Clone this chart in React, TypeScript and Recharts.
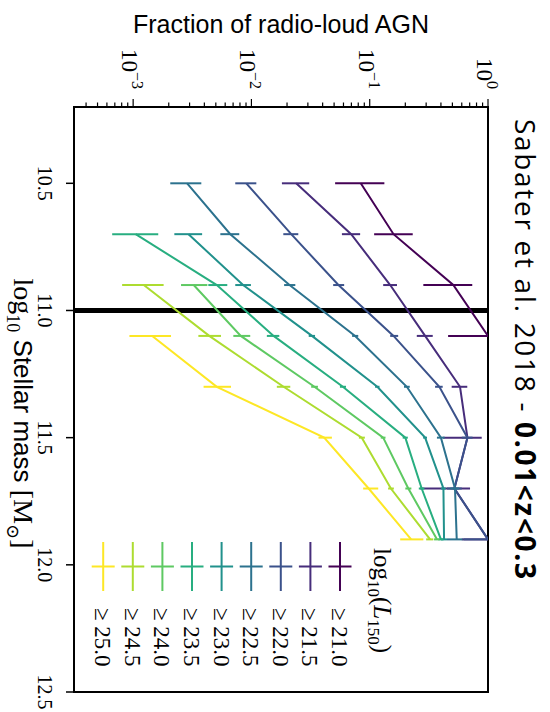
import { LineChart, Line, XAxis, YAxis, ErrorBar, ReferenceLine, ReferenceArea, Legend } from 'recharts'

// log10 stellar mass bins
const MASS = [10.5, 10.7, 10.9, 11.1, 11.3, 11.5, 11.7, 11.9]

// fraction of radio-loud AGN per mass bin, with lower / upper error bounds
const F_210 = [0.084, 0.159, 0.509, 1.0, null, null, null, null]
const LO_210 = [0.051, 0.109, 0.284, 0.46, null, null, null, null]
const HI_210 = [0.133, 0.231, 0.736, 1.0, null, null, null, null]

const F_215 = [0.0239, 0.0697, 0.149, 0.294, 0.58, 0.67, 0.52, 1.0]
const LO_215 = [0.0181, 0.0582, 0.13, 0.25, 0.493, 0.417, 0.267, 0.6]
const HI_215 = [0.0308, 0.083, 0.17, 0.341, 0.668, 0.885, 0.705, 1.0]

const F_220 = [0.00905, 0.0217, 0.0544, 0.159, 0.388, 0.67, 0.52, 1.0]
const LO_220 = [0.0073, 0.0186, 0.0491, 0.149, 0.357, 0.6, 0.45, 0.62]
const HI_220 = [0.011, 0.0249, 0.0608, 0.174, 0.414, 0.74, 0.6, 1.0]

const F_225 = [0.00286, 0.00663, 0.021, 0.0753, 0.206, 0.4, 0.526, 0.544]
const LO_225 = [0.00206, 0.00546, 0.0189, 0.071, 0.195, 0.37, 0.48, 0.45]
const HI_225 = [0.00377, 0.00789, 0.0235, 0.08, 0.218, 0.43, 0.57, 0.61]

const F_230 = [null, 0.00294, 0.0085, 0.0325, 0.116, 0.294, 0.42, 0.425]
const LO_230 = [null, 0.00223, 0.0073, 0.0305, 0.111, 0.283, 0.4, 0.4]
const HI_230 = [null, 0.00383, 0.0099, 0.0345, 0.121, 0.305, 0.44, 0.45]

const F_235 = [null, 0.00105, 0.0051, 0.0154, 0.0593, 0.2, 0.275, 0.4]
const LO_235 = [null, 0.000665, 0.00432, 0.0135, 0.056, 0.19, 0.26, 0.38]
const HI_235 = [null, 0.00163, 0.00625, 0.0172, 0.063, 0.21, 0.29, 0.42]

const F_240 = [null, null, 0.00325, 0.00813, 0.0341, 0.13, 0.212, 0.371]
const LO_240 = [null, null, 0.00254, 0.00703, 0.032, 0.124, 0.2, 0.35]
const HI_240 = [null, null, 0.00424, 0.00977, 0.0365, 0.136, 0.225, 0.39]

const F_245 = [null, null, 0.00123, 0.0044, 0.0187, 0.0857, 0.151, 0.324]
const LO_245 = [null, null, 0.000807, 0.00356, 0.0164, 0.081, 0.143, 0.3]
const HI_245 = [null, null, 0.00181, 0.00553, 0.0213, 0.091, 0.16, 0.345]

const F_250 = [null, null, null, 0.00145, 0.0051, 0.0412, 0.098, 0.224]
const LO_250 = [null, null, null, 0.00093, 0.00394, 0.0369, 0.088, 0.181]
const HI_250 = [null, null, null, 0.00209, 0.00672, 0.0479, 0.118, 0.284]

const LUM = ['21.0', '21.5', '22.0', '22.5', '23.0', '23.5', '24.0', '24.5', '25.0']
const FRACS = [F_210, F_215, F_220, F_225, F_230, F_235, F_240, F_245, F_250]
const LOWS = [LO_210, LO_215, LO_220, LO_225, LO_230, LO_235, LO_240, LO_245, LO_250]
const HIGHS = [HI_210, HI_215, HI_220, HI_225, HI_230, HI_235, HI_240, HI_245, HI_250]

// viridis, 9 steps
const COLORS = ['#440154', '#472d7b', '#3b528b', '#2c728e', '#21918c', '#28ae80', '#5ec962', '#addc30', '#fde725']

const MASS_TICKS = [10.5, 11.0, 11.5, 12.0, 12.5]
const DECADES = [0.0001, 0.001, 0.01, 0.1]
const SUBSTEPS = [1, 2, 3, 4, 5, 6, 7, 8, 9]
const FRAC_MIN = Math.pow(10, -3.5)
const FRAC_TICKS = DECADES.flatMap(d => SUBSTEPS.map(s => +(d * s).toPrecision(3)))
    .concat([1])
    .filter(v => v >= FRAC_MIN)

const rows = MASS.map((m, i) => {
    const row: Record<string, any> = { mass: m }
    FRACS.forEach((f, k) => {
        const v = f[i]
        if (v == null) return
        row['f' + k] = v
        row['e' + k] = [v - (LOWS[k][i] as number), (HIGHS[k][i] as number) - v]
    })
    return row
})

const SERIF = "'Liberation Serif', 'DejaVu Serif', serif"
const SANS = "'Liberation Sans', Arial, sans-serif"

function MassTick({ x, y, payload }: any) {
    return (
        <g>
            <line x1={x} x2={x} y1={y} y2={y + 8} stroke="#000" strokeWidth={1.5} />
            <text x={x} y={y + 36} textAnchor="middle" fontFamily={SERIF} fontSize={20} fill="#000">
                {Number(payload.value).toFixed(1)}
            </text>
        </g>
    )
}

function FracTick({ x, y, payload }: any) {
    const lg = Math.log10(payload.value)
    const e = Math.round(lg)
    const major = Math.abs(lg - e) < 1e-6
    return (
        <g>
            <line x1={x - (major ? 8 : 4.5)} x2={x} y1={y} y2={y} stroke="#000" strokeWidth={1.2} />
            {major && (
                <text x={x - 18} y={y + 11} textAnchor="end" fontFamily={SERIF} fontSize={23} fill="#000">
                    10<tspan dy={-10} fontSize={16}>{e < 0 ? '\u2212' + -e : e}</tspan>
                </text>
            )}
        </g>
    )
}

function FracLabel({ viewBox }: any) {
    const cx = 33
    const cy = viewBox.y + viewBox.height / 2
    return (
        <text x={cx} y={cy} transform={`rotate(-90 ${cx} ${cy})`} textAnchor="middle" fontFamily={SANS} fontSize={25} fill="#000">
            Fraction of radio-loud AGN
        </text>
    )
}

function MassLabel({ viewBox }: any) {
    const cx = viewBox.x + viewBox.width / 2 + 14
    const y = 536
    return (
        <text x={cx} y={y} textAnchor="middle" fontSize={26} fill="#000">
            <tspan fontFamily={SERIF} fontSize={28}>log</tspan>
            <tspan fontFamily={SERIF} fontSize={18} dy={7}>10</tspan>
            <tspan fontFamily={SANS} dy={-7}> Stellar mass </tspan>
            <tspan fontFamily={SERIF} fontSize={28}>[M</tspan>
            <tspan fontFamily={SERIF} fontSize={18} dy={7}>{'\u2299'}</tspan>
            <tspan fontFamily={SERIF} fontSize={28} dy={-7}>]</tspan>
        </text>
    )
}

function LumLegend({ payload }: any) {
    const items = payload || []
    return (
        <svg width={170} height={330}>
            <text x={8} y={26} fontFamily={SERIF} fontSize={25} fill="#000">
                log<tspan fontSize={17} dy={6}>10</tspan>
                <tspan dy={-6}>(</tspan>
                <tspan fontStyle="italic">L</tspan>
                <tspan fontSize={17} dy={6}>150</tspan>
                <tspan dy={-6}>)</tspan>
            </text>
            {items.map((p: any, i: number) => {
                const cy = 60 + i * 29.6
                return (
                    <g key={p.value}>
                        <line x1={2} x2={51} y1={cy} y2={cy} stroke={p.color} strokeWidth={2} />
                        <line x1={26.5} x2={26.5} y1={cy - 11.5} y2={cy + 11.5} stroke={p.color} strokeWidth={2} />
                        <text x={68} y={cy + 8} fontFamily={SERIF} fontSize={23} fill="#000">
                            {'\u2265 ' + p.value}
                        </text>
                    </g>
                )
            })}
        </svg>
    )
}

export default function App() {
    return (
        <div style={{ position: 'absolute', left: 0, top: 0, width: 550, height: 712, overflow: 'hidden', background: '#fff' }}>
            <div style={{ position: 'absolute', left: 0, top: 0, width: 712, height: 550, transformOrigin: '0 0', transform: 'translate(550px, 0) rotate(90deg)' }}>
                <LineChart width={712} height={550} data={rows} margin={{ top: 62, right: 20, bottom: 0, left: 0 }}>
                    <XAxis
                        dataKey="mass"
                        type="number"
                        domain={[10.2, 12.5]}
                        ticks={MASS_TICKS}
                        interval={0}
                        axisLine={false}
                        tickLine={false}
                        tickSize={0}
                        tickMargin={0}
                        height={74}
                        tick={<MassTick />}
                        label={{ content: <MassLabel /> }}
                        allowDataOverflow
                    />
                    <YAxis
                        type="number"
                        scale="log"
                        domain={[FRAC_MIN, 1]}
                        ticks={FRAC_TICKS}
                        interval={0}
                        axisLine={false}
                        tickLine={false}
                        tickSize={0}
                        tickMargin={0}
                        width={107}
                        tick={<FracTick />}
                        label={{ content: <FracLabel /> }}
                        allowDataOverflow
                    />
                    <ReferenceArea x1={10.2} x2={12.5} y1={FRAC_MIN} y2={1} fill="none" stroke="#000" strokeWidth={2} ifOverflow="visible" />
                    <ReferenceLine x={11.0} stroke="#000" strokeWidth={5} />
                    {LUM.map((l, k) => (
                        <Line
                            key={l}
                            name={l}
                            dataKey={'f' + k}
                            stroke={COLORS[k]}
                            strokeWidth={2}
                            dot={false}
                            activeDot={false}
                            isAnimationActive={false}
                        >
                            <ErrorBar dataKey={'e' + k} width={0} stroke={COLORS[k]} strokeWidth={2} direction="y" />
                        </Line>
                    ))}
                    <Legend
                        layout="vertical"
                        align="center"
                        verticalAlign="middle"
                        content={<LumLegend />}
                        wrapperStyle={{ left: 540, top: 150, width: 170, height: 330, right: 'auto', bottom: 'auto' }}
                    />
                </LineChart>
                <svg width={712} height={45} style={{ position: 'absolute', left: 0, top: 0 }}>
                    <text x={349} y={35} textAnchor="middle" fontFamily="'Open Sans', sans-serif" fontSize={28} textLength={460} lengthAdjust="spacing" fill="#000">
                        Sabater et al. 2018 - <tspan fontWeight="bold">0.01&lt;z&lt;0.3</tspan>
                    </text>
                </svg>
            </div>
        </div>
    )
}
